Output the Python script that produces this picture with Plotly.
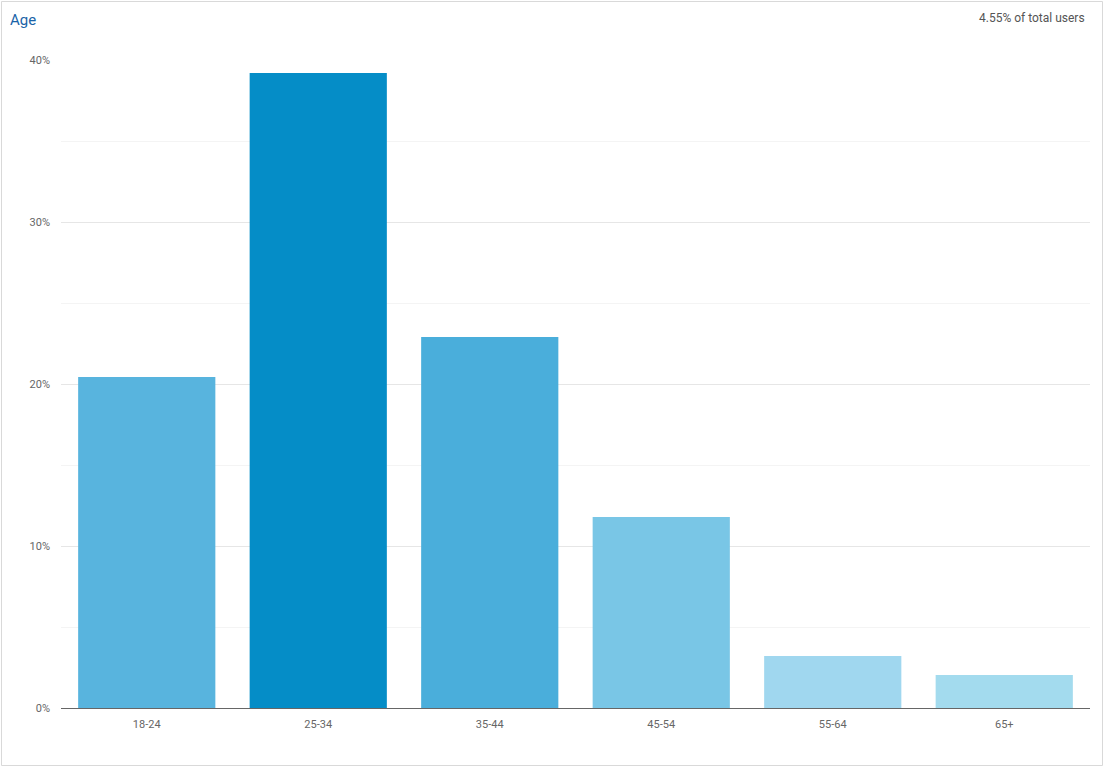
import plotly.graph_objects as go

categories = ["18-24", "25-34", "35-44", "45-54", "55-64", "65+"]
values = [20.43, 39.2, 22.9, 11.79, 3.21, 2.04]
colors = ["#58b4de", "#058dc7", "#4aaedb", "#79c6e6", "#a0d7ef", "#a3dbee"]
y_ticks = [0, 10, 20, 30, 40]
y_tick_labels = ["0%", "10%", "20%", "30%", "40%"]

W, H = 1105, 768
ml, mr, mt, mb = 61, 15, 60, 60
pw = W - ml - mr
ph = H - mt - mb

fig = go.Figure(go.Bar(
    x=categories, y=values, marker=dict(color=colors, line=dict(width=0)),
    hovertemplate="%{x}: %{y:.2f}%<extra></extra>",
))

fig.update_layout(
    width=W, height=H,
    margin=dict(l=ml, r=mr, t=mt, b=mb),
    paper_bgcolor="white", plot_bgcolor="white",
    bargap=0.2,
    showlegend=False,
    font=dict(family="Roboto, Arial, sans-serif", size=11, color="#666666"),
    xaxis=dict(
        showgrid=False, showline=True, linecolor="#666666", linewidth=1,
        ticks="", tickfont=dict(size=11, color="#666666"),
        ticklabelstandoff=6, zeroline=False,
    ),
    yaxis=dict(
        range=[0, 40], tickvals=y_ticks, ticktext=y_tick_labels,
        showgrid=True, gridcolor="#e6e6e6", gridwidth=1,
        minor=dict(dtick=5, showgrid=True, gridcolor="#f4f4f4", gridwidth=1, tick0=0),
        zeroline=False, showline=False, ticks="",
        tickfont=dict(size=11, color="#666666"),
        ticklabelstandoff=10,
    ),
    annotations=[
        dict(text="Age", xref="paper", yref="paper",
             x=-53 / pw, y=1 + 40 / ph, xanchor="left", yanchor="middle",
             showarrow=False, font=dict(size=15, color="#1a63a8")),
        dict(text="4.55% of total users", xref="paper", yref="paper",
             x=1 - 3 / pw, y=1 + 42 / ph, xanchor="right", yanchor="middle",
             showarrow=False, font=dict(size=12, color="#555555")),
    ],
    shapes=[
        dict(type="rect", xref="paper", yref="paper",
             x0=-(ml - 1.5) / pw, x1=1 + (mr - 2.5) / pw,
             y0=-(mb - 2.5) / ph, y1=1 + (mt - 1.5) / ph,
             line=dict(color="#d9d9d9", width=1), fillcolor="rgba(0,0,0,0)",
             layer="below"),
    ],
)

fig.write_html("out.html", config={"displayModeBar": False},
               post_script="document.body.style.margin='0';")
